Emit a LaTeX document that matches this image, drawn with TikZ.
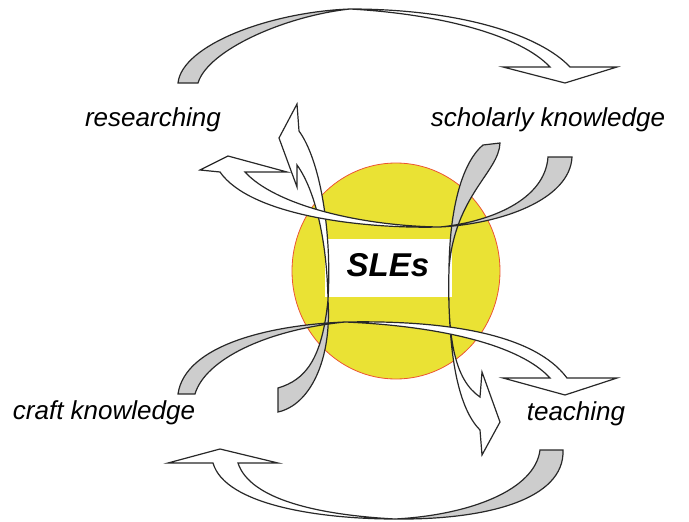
\documentclass[tikz,border=0pt]{standalone}
\usepackage{fontspec}
\setmainfont{Liberation Sans}
\usetikzlibrary{shapes.geometric}
\definecolor{sunyellow}{RGB}{234,226,52}
\definecolor{rimred}{RGB}{236,84,52}
\definecolor{backgray}{RGB}{205,205,205}
\definecolor{edgegray}{RGB}{40,40,40}
\tikzset{
  lbl/.style={font=\fontsize{26}{30}\selectfont\itshape, inner sep=0pt, anchor=base},
  hublbl/.style={font=\fontsize{33}{38}\selectfont\bfseries\itshape, inner sep=0pt, anchor=base},
  back/.style={fill=backgray, draw=edgegray, line width=1.2pt},
  front/.style={fill=white, draw=edgegray, line width=1.2pt},
  }

\begin{document}
\begin{tikzpicture}[x=1pt,y=-1pt]
  \useasboundingbox (0,0) rectangle (689,522);

  % hub
  \node[ellipse, draw=rimred, fill=sunyellow, line width=0.8pt,
        minimum width=208pt, minimum height=216pt, inner sep=0pt] (hub) at (396,271) {};
  \node[fill=white, minimum width=127pt, minimum height=58pt, inner sep=0pt] (box) at (388.5,268) {};
  \node[hublbl] (sles) at (388,276) {SLEs};

  % left band, up to researching
  \draw[back]  (278,388) .. controls (305,380) and (322,360) .. (328,300)
               .. controls (332,360) and (310,405) .. (278,412) -- cycle;
  \draw[front] (328,300) .. controls (332,230) and (320,160) .. (299,131)
               -- (297,104) -- (279,138) -- (297,187) -- (297,165)
               .. controls (315,190) and (327,240) .. (328,300) -- cycle;

  % right band, down to teaching
  \draw[back]  (483,145) -- (500,143) .. controls (499,172) and (455,195) .. (449,268)
               .. controls (450,200) and (465,160) .. (483,145) -- cycle;
  \draw[front] (449,268) .. controls (447,340) and (455,380) .. (480,397)
               -- (482,372) -- (500,422) -- (482,455) -- (480,430)
               .. controls (460,410) and (447,360) .. (449,268) -- cycle;

  % upper band, scholarly knowledge to researching
  \draw[back]  (572,157) .. controls (570,200) and (500,224) .. (440,227)
               .. controls (490,222) and (545,200) .. (548,157) -- cycle;
  \draw[front] (440,227) .. controls (360,229) and (250,215) .. (220,172)
               -- (200,170) -- (228,156) -- (287,172) -- (245,172)
               .. controls (275,205) and (360,226) .. (440,227) -- cycle;

  % lower band, craft knowledge to teaching
  \draw[back]  (178,394) .. controls (185,345) and (270,325) .. (345,322)
               .. controls (265,330) and (205,360) .. (195,394) -- cycle;
  \draw[front] (345,322) .. controls (450,320) and (535,335) .. (567,378)
               -- (617,378) -- (565,395) -- (503,378) -- (550,378)
               .. controls (520,345) and (440,326) .. (345,322) -- cycle;

  % top arc
  \draw[back]  (178,83) .. controls (182,45) and (270,12) .. (350,9)
               .. controls (285,16) and (208,50) .. (198,83) -- cycle;
  \draw[front] (350,9) .. controls (460,9) and (540,35) .. (570,67)
               -- (617,67) -- (565,83) -- (503,67) -- (550,67)
               .. controls (520,35) and (440,14) .. (350,9) -- cycle;

  % bottom arc
  \draw[back]  (563,450) .. controls (565,500) and (485,520) .. (395,519)
               .. controls (470,515) and (535,490) .. (540,450) -- cycle;
  \draw[front] (395,519) .. controls (320,519) and (225,505) .. (213,463)
               -- (168,463) -- (220,449) -- (278,463) -- (238,463)
               .. controls (250,500) and (320,515) .. (395,519) -- cycle;

  % labels
  \node[lbl] (res)    at (153,126) {researching};
  \node[lbl] (schol)  at (548,126) {scholarly knowledge};
  \node[lbl] (craft)  at (104,419) {craft knowledge};
  \node[lbl] (teach)  at (576,420) {teaching};
\end{tikzpicture}
\end{document}
